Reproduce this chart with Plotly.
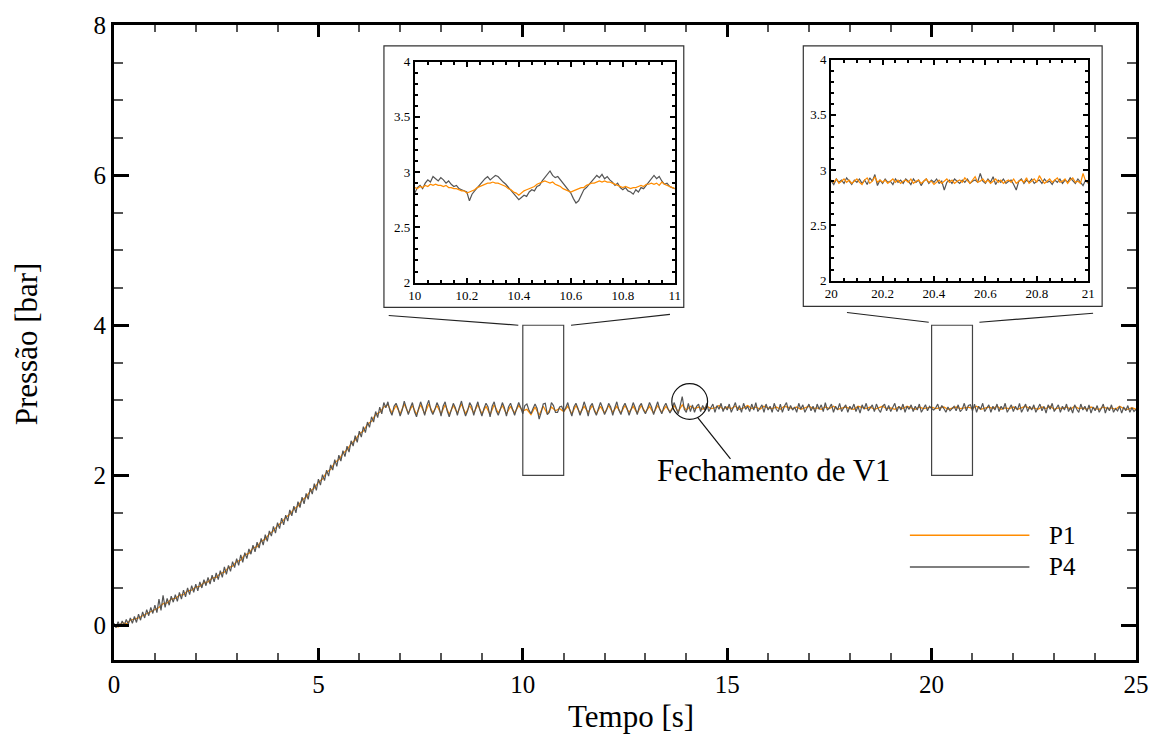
import plotly.graph_objects as go

# ---------------- data ----------------
# P1 sampled every 0.1 s, P4 every 0.05 s (noisier signal)
P1_DT = 0.1
p1_main = [
    0.01, -0.02, 0.04, 0.02, 0.07, 0.08, 0.10, 0.13, 0.16, 0.18,
    0.22, 0.24, 0.29, 0.30, 0.35, 0.36, 0.40, 0.41, 0.46, 0.47,
    0.51, 0.52, 0.57, 0.58, 0.63, 0.64, 0.69, 0.71, 0.77, 0.79,
    0.85, 0.87, 0.94, 0.96, 1.03, 1.05, 1.12, 1.15, 1.22, 1.26,
    1.33, 1.37, 1.44, 1.48, 1.55, 1.59, 1.67, 1.71, 1.79, 1.83,
    1.91, 1.95, 2.04, 2.08, 2.17, 2.21, 2.29, 2.34, 2.42, 2.47,
    2.55, 2.59, 2.68, 2.72, 2.81, 2.84, 2.91,
    2.94, 2.83, 2.93, 2.82, 2.95, 2.83, 2.93, 2.81, 2.94, 2.82,
    2.95, 2.83, 2.93, 2.82, 2.94, 2.81, 2.93, 2.83, 2.95, 2.82,
    2.93, 2.83, 2.94, 2.82, 2.92, 2.81, 2.94, 2.83, 2.93, 2.82,
    2.92, 2.83, 2.93, 2.86, 2.88, 2.81, 2.91, 2.80, 2.92, 2.82,
    2.91, 2.86, 2.89, 2.85, 2.92, 2.82, 2.93, 2.83, 2.92, 2.84,
    2.93, 2.82, 2.92, 2.83, 2.93, 2.84, 2.92, 2.83, 2.93, 2.84,
    2.92, 2.83, 2.93, 2.84, 2.92, 2.83, 2.93, 2.84, 2.92, 2.85,
    2.93, 2.85, 2.94, 2.87,
    2.92, 2.89, 2.91, 2.88, 2.92, 2.89, 2.90, 2.93, 2.88, 2.91,
    2.89, 2.92, 2.88, 2.90, 2.93, 2.89, 2.91, 2.88, 2.92, 2.90,
    2.89, 2.91, 2.88, 2.92, 2.90, 2.89, 2.91, 2.88, 2.90, 2.92,
    2.89, 2.90, 2.88, 2.91, 2.89, 2.92, 2.88, 2.90, 2.91, 2.89,
    2.88, 2.92, 2.90, 2.89, 2.91, 2.88, 2.90, 2.92, 2.89, 2.90,
    2.88, 2.91, 2.89, 2.92, 2.90, 2.88, 2.91, 2.89, 2.90, 2.91,
    2.89, 2.90, 2.91, 2.88, 2.90, 2.91, 2.89, 2.90, 2.91, 2.89,
    2.92, 2.88, 2.90, 2.91, 2.89, 2.92, 2.88, 2.90, 2.89, 2.91,
    2.88, 2.90, 2.92, 2.89, 2.90, 2.88, 2.91, 2.89, 2.92, 2.88,
    2.90, 2.89, 2.91, 2.88, 2.92, 2.89, 2.90, 2.88, 2.91, 2.89,
    2.88, 2.91, 2.89, 2.90, 2.88, 2.92, 2.89, 2.88, 2.90, 2.88,
]

P4_DT = 0.05
p4_main = [
    # ramp 0.00 - 6.60
    0.03, -0.03, 0.05, -0.01, 0.06, 0.00, 0.08, 0.02, 0.10, 0.03,
    0.12, 0.04, 0.15, 0.07, 0.18, 0.10, 0.21, 0.13, 0.24, 0.16,
    0.27, 0.17, 0.35, 0.20, 0.40, 0.24, 0.36, 0.27, 0.39, 0.31,
    0.41, 0.32, 0.44, 0.35, 0.47, 0.38, 0.50, 0.41, 0.53, 0.44,
    0.55, 0.46, 0.58, 0.50, 0.61, 0.53, 0.64, 0.55, 0.67, 0.58,
    0.70, 0.61, 0.73, 0.64, 0.78, 0.68, 0.80, 0.72, 0.85, 0.77,
    0.89, 0.80, 0.94, 0.84, 0.97, 0.89, 1.02, 0.95, 1.07, 0.98,
    1.11, 1.03, 1.16, 1.07, 1.21, 1.12, 1.26, 1.19, 1.32, 1.23,
    1.37, 1.29, 1.43, 1.34, 1.47, 1.39, 1.54, 1.46, 1.59, 1.50,
    1.65, 1.57, 1.71, 1.62, 1.76, 1.68, 1.83, 1.75, 1.89, 1.80,
    1.95, 1.87, 2.01, 1.93, 2.07, 1.99, 2.14, 2.07, 2.21, 2.12,
    2.27, 2.19, 2.33, 2.25, 2.39, 2.31, 2.46, 2.39, 2.53, 2.44,
    2.59, 2.51, 2.65, 2.57, 2.71, 2.64, 2.78, 2.71, 2.85, 2.77,
    2.91, 2.82, 2.97,
    # oscillating plateau 6.65 - 14.00
    2.90, 2.98, 2.86, 2.80, 2.92, 2.96, 2.89, 2.79, 2.87, 2.99,
    2.91, 2.81, 2.90, 2.97, 2.85, 2.78, 2.89, 2.98, 2.90, 2.80,
    2.93, 3.00, 2.87, 2.81, 2.88, 2.97, 2.91, 2.79, 2.92, 2.98,
    2.86, 2.78, 2.87, 2.96, 2.90, 2.80, 2.91, 2.99, 2.88, 2.79,
    2.86, 2.97, 2.92, 2.80, 2.90, 2.98, 2.87, 2.79, 2.89, 2.96,
    2.91, 2.78, 2.92, 2.98, 2.86, 2.80, 2.88, 2.97, 2.90, 2.79,
    2.91, 2.96, 2.88, 2.80, 2.89, 2.97, 2.90, 2.82, 2.93, 2.95,
    2.87, 2.82, 2.89, 2.95, 2.89, 2.75, 2.84, 2.95, 2.96, 2.81,
    2.84, 2.97, 2.93, 2.84, 2.84, 2.91, 2.92, 2.85, 2.90, 2.97,
    2.87, 2.79, 2.91, 2.96, 2.89, 2.80, 2.88, 2.98, 2.90, 2.79,
    2.92, 2.96, 2.86, 2.80, 2.89, 2.97, 2.90, 2.81, 2.87, 2.96,
    2.91, 2.80, 2.90, 2.98, 2.87, 2.81, 2.91, 2.96, 2.89, 2.80,
    2.88, 2.97, 2.90, 2.81, 2.92, 2.96, 2.87, 2.82, 2.89, 2.97,
    2.91, 2.81, 2.90, 2.98, 2.88, 2.82, 2.91, 2.96, 2.89, 2.83,
    2.88, 2.97, 2.90, 2.82, 2.93, 3.05, 2.88, 2.84,
    # after closing V1, 14.05 - 25.00
    2.96, 2.85, 2.94, 2.84, 2.92, 2.95, 2.85, 2.93, 2.87, 2.96,
    2.85, 2.90, 2.95, 2.84, 2.93, 2.88, 2.96, 2.85, 2.92, 2.87,
    2.95, 2.84, 2.90, 2.97, 2.86, 2.93, 2.84, 2.96, 2.88, 2.92,
    2.85, 2.95, 2.87, 2.97, 2.85, 2.90, 2.94, 2.84, 2.95, 2.87,
    2.92, 2.84, 2.96, 2.88, 2.85, 2.95, 2.84, 2.92, 2.97, 2.86,
    2.93, 2.87, 2.91, 2.84, 2.96, 2.88, 2.94, 2.84, 2.90, 2.95,
    2.86, 2.92, 2.84, 2.95, 2.88, 2.94, 2.85, 2.97, 2.87, 2.90,
    2.95, 2.84, 2.92, 2.87, 2.96, 2.85, 2.90, 2.94, 2.84, 2.92,
    2.88, 2.95, 2.85, 2.92, 2.83, 2.94, 2.88, 2.96, 2.86, 2.90,
    2.94, 2.85, 2.95, 2.88, 2.84, 2.92, 2.95, 2.86, 2.93, 2.85,
    2.90, 2.96, 2.85, 2.92, 2.87, 2.95, 2.84, 2.92, 2.88, 2.94,
    2.85, 2.92, 2.87, 2.95, 2.84, 2.90, 2.94, 2.86, 2.92, 2.89,
    2.87, 2.90, 2.95, 2.86, 2.93, 2.89, 2.84, 2.91, 2.86, 2.89,
    2.92, 2.86, 2.94, 2.85, 2.88, 2.96, 2.86, 2.93, 2.94, 2.86,
    2.95, 2.84, 2.92, 2.88, 2.96, 2.85, 2.90, 2.94, 2.84, 2.92,
    2.87, 2.95, 2.85, 2.92, 2.88, 2.96, 2.84, 2.90, 2.94, 2.85,
    2.92, 2.87, 2.96, 2.84, 2.90, 2.95, 2.85, 2.92, 2.87, 2.94,
    2.84, 2.90, 2.95, 2.86, 2.92, 2.83, 2.94, 2.88, 2.96, 2.85,
    2.90, 2.94, 2.84, 2.92, 2.87, 2.95, 2.85, 2.91, 2.83, 2.94,
    2.88, 2.84, 2.95, 2.87, 2.92, 2.85, 2.94, 2.83, 2.91, 2.86,
    2.93, 2.84, 2.89, 2.95, 2.83, 2.91, 2.86, 2.94, 2.84, 2.89,
    2.86, 2.92, 2.83, 2.91, 2.86, 2.93, 2.84, 2.90, 2.85, 2.88,
]

time_p1 = [round(P1_DT * i, 3) for i in range(len(p1_main))]
time_p4 = [round(P4_DT * i, 3) for i in range(len(p4_main))]

ZOOM_DT = 0.01
p1_zoom1 = [
    2.86, 2.85, 2.87, 2.86, 2.88, 2.87, 2.89, 2.88, 2.89, 2.88,
    2.88, 2.87, 2.88, 2.86, 2.86, 2.85, 2.85, 2.84, 2.83, 2.83,
    2.81, 2.82, 2.83, 2.84, 2.86, 2.87, 2.88, 2.89, 2.90, 2.90,
    2.91, 2.90, 2.90, 2.89, 2.88, 2.87, 2.85, 2.84, 2.82, 2.81,
    2.79, 2.81, 2.83, 2.84, 2.85, 2.86, 2.87, 2.89, 2.90, 2.91,
    2.92, 2.91, 2.90, 2.91, 2.89, 2.88, 2.87, 2.85, 2.84, 2.83,
    2.82, 2.83, 2.84, 2.85, 2.86, 2.86, 2.88, 2.89, 2.90, 2.90,
    2.91, 2.92, 2.91, 2.92, 2.91, 2.91, 2.90, 2.89, 2.88, 2.87,
    2.86, 2.87, 2.86, 2.85, 2.86, 2.86, 2.87, 2.88, 2.87, 2.89,
    2.89, 2.90, 2.89, 2.90, 2.88, 2.91, 2.89, 2.88, 2.87, 2.86,
    2.85,
]
p4_zoom1 = [
    2.81, 2.86, 2.88, 2.85, 2.90, 2.93, 2.91, 2.96, 2.94, 2.92,
    2.95, 2.93, 2.90, 2.92, 2.89, 2.87, 2.88, 2.85, 2.84, 2.83,
    2.82, 2.74, 2.80, 2.83, 2.86, 2.89, 2.91, 2.94, 2.96, 2.93,
    2.95, 2.97, 2.96, 2.93, 2.91, 2.89, 2.86, 2.83, 2.80, 2.78,
    2.75, 2.77, 2.79, 2.78, 2.82, 2.84, 2.83, 2.87, 2.88, 2.92,
    2.95, 2.97, 3.01, 2.97, 2.95, 2.96, 2.93, 2.90, 2.87, 2.84,
    2.81, 2.76, 2.72, 2.74, 2.79, 2.84, 2.86, 2.89, 2.92, 2.95,
    2.97, 2.95, 2.98, 2.94, 2.96, 2.93, 2.91, 2.88, 2.90, 2.86,
    2.84, 2.86, 2.83, 2.82, 2.80, 2.84, 2.82, 2.86, 2.85, 2.88,
    2.91, 2.95, 2.97, 2.94, 2.96, 2.92, 2.89, 2.90, 2.87, 2.86,
    2.85,
]
p1_zoom2 = [
    2.91, 2.89, 2.92, 2.88, 2.90, 2.92, 2.89, 2.91, 2.88, 2.90,
    2.92, 2.89, 2.87, 2.91, 2.93, 2.88, 2.90, 2.94, 2.89, 2.91,
    2.89, 2.91, 2.88, 2.90, 2.92, 2.89, 2.91, 2.88, 2.90, 2.91,
    2.89, 2.92, 2.88, 2.90, 2.91, 2.88, 2.90, 2.92, 2.89, 2.90,
    2.87, 2.89, 2.91, 2.88, 2.90, 2.92, 2.89, 2.91, 2.88, 2.90,
    2.91, 2.89, 2.93, 2.90, 2.88, 2.91, 2.94, 2.89, 2.90, 2.92,
    2.89, 2.91, 2.88, 2.90, 2.92, 2.89, 2.91, 2.88, 2.90, 2.91,
    2.89, 2.92, 2.88, 2.90, 2.91, 2.89, 2.93, 2.88, 2.90, 2.92,
    2.89, 2.95, 2.91, 2.88, 2.90, 2.92, 2.89, 2.91, 2.93, 2.89,
    2.90, 2.92, 2.88, 2.91, 2.93, 2.89, 2.90, 2.88, 2.97, 2.90,
    2.89,
]
p4_zoom2 = [
    2.90, 2.87, 2.92, 2.89, 2.91, 2.88, 2.93, 2.90, 2.87, 2.91,
    2.89, 2.92, 2.88, 2.91, 2.87, 2.93, 2.90, 2.96, 2.86, 2.91,
    2.88, 2.92, 2.89, 2.90, 2.87, 2.92, 2.89, 2.91, 2.88, 2.92,
    2.90, 2.87, 2.92, 2.89, 2.91, 2.86, 2.90, 2.92, 2.88, 2.91,
    2.89, 2.92, 2.88, 2.90, 2.82, 2.89, 2.91, 2.88, 2.92, 2.90,
    2.88, 2.91, 2.89, 2.92, 2.88, 2.90, 2.91, 2.89, 2.97, 2.90,
    2.88, 2.92, 2.89, 2.94, 2.87, 2.91, 2.89, 2.92, 2.88, 2.90,
    2.91, 2.87, 2.82, 2.90, 2.92, 2.88, 2.91, 2.89, 2.92, 2.88,
    2.90, 2.91, 2.88, 2.92, 2.89, 2.90, 2.87, 2.91, 2.89, 2.92,
    2.88, 2.91, 2.89, 2.93, 2.90, 2.88, 2.92, 2.89, 2.86, 2.91,
    2.88,
]
time_zoom1 = [round(10.0 + ZOOM_DT * i, 3) for i in range(len(p1_zoom1))]
time_zoom2 = [round(20.0 + ZOOM_DT * i, 3) for i in range(len(p1_zoom2))]

series_names = ["P1", "P4"]
main_xticks = [0, 5, 10, 15, 20, 25]
main_yticks = [0, 2, 4, 6, 8]

# ---------------- styling ----------------
ORANGE = "#FF8C00"
GREY = "#555555"
FONT = "Liberation Serif, Times New Roman, serif"

W, H = 1161, 735
L, R, T, B = 114, 1140, 19, 660   # plot area in pixels


def px(x):
    return (x - L) / (R - L)


def py(y):
    return (B - y) / (B - T)


fig = go.Figure()

# main traces
fig.add_trace(go.Scatter(x=time_p1, y=p1_main, mode="lines", name=series_names[0],
                         line=dict(color=ORANGE, width=1.3), showlegend=False))
fig.add_trace(go.Scatter(x=time_p4, y=p4_main, mode="lines", name=series_names[1],
                         line=dict(color=GREY, width=1.2), showlegend=False))
# inset 1
fig.add_trace(go.Scatter(x=time_zoom1, y=p4_zoom1, mode="lines", xaxis="x2", yaxis="y2",
                         line=dict(color=GREY, width=1.2), showlegend=False))
fig.add_trace(go.Scatter(x=time_zoom1, y=p1_zoom1, mode="lines", xaxis="x2", yaxis="y2",
                         line=dict(color=ORANGE, width=1.2), showlegend=False))
# inset 2
fig.add_trace(go.Scatter(x=time_zoom2, y=p4_zoom2, mode="lines", xaxis="x3", yaxis="y3",
                         line=dict(color=GREY, width=1.2), showlegend=False))
fig.add_trace(go.Scatter(x=time_zoom2, y=p1_zoom2, mode="lines", xaxis="x3", yaxis="y3",
                         line=dict(color=ORANGE, width=1.2), showlegend=False))

main_axis = dict(showgrid=False, zeroline=False, showline=True, linecolor="black",
                 linewidth=3, mirror="allticks", ticks="inside", tickcolor="black",
                 tickwidth=3, tickfont=dict(family=FONT, size=25, color="black"))

inset_axis = dict(showgrid=False, zeroline=False, showline=True, linecolor="black",
                  linewidth=2, mirror="allticks", ticks="inside", tickcolor="black",
                  tickwidth=1.5, ticklen=5,
                  tickfont=dict(family=FONT, size=13, color="black"))

# inset domains (pixels -> paper)
in1 = dict(x=(416, 677), y=(279, 56))
in2 = dict(x=(834, 1092), y=(277, 54))

fig.update_layout(
    width=W, height=H,
    margin=dict(l=L, r=W - R, t=T, b=H - B),
    paper_bgcolor="white", plot_bgcolor="white",
    font=dict(family=FONT, color="black"),
    xaxis=dict(range=[0, 25], tickvals=main_xticks, ticklen=12,
               minor=dict(dtick=1, ticklen=7, tickwidth=1.5, tickcolor="#555555", ticks="inside"),
               **main_axis),
    yaxis=dict(range=[-0.46, 8], tickvals=main_yticks, ticklen=15,
               minor=dict(dtick=0.5, ticklen=9, tickwidth=1.5, tickcolor="#555555", ticks="inside"),
               **main_axis),
    xaxis2=dict(domain=[px(in1["x"][0]), px(in1["x"][1])], anchor="y2", range=[10, 11],
                dtick=0.2, tick0=10, minor=dict(dtick=0.05, ticklen=3, ticks="inside", tickcolor="black"),
                **inset_axis),
    yaxis2=dict(domain=[py(in1["y"][0]), py(in1["y"][1])], anchor="x2", range=[2, 4],
                dtick=0.5, tick0=2, minor=dict(dtick=0.1, ticklen=3, ticks="inside", tickcolor="black"),
                **inset_axis),
    xaxis3=dict(domain=[px(in2["x"][0]), px(in2["x"][1])], anchor="y3", range=[20, 21],
                dtick=0.2, tick0=20, minor=dict(dtick=0.05, ticklen=3, ticks="inside", tickcolor="black"),
                **inset_axis),
    yaxis3=dict(domain=[py(in2["y"][0]), py(in2["y"][1])], anchor="x3", range=[2, 4],
                dtick=0.5, tick0=2, minor=dict(dtick=0.1, ticklen=3, ticks="inside", tickcolor="black"),
                **inset_axis),
)

shapes = []
# inset outer frames
for (x0, x1, y0, y1) in [(385, 686, 304, 40), (806, 1106, 303, 40)]:
    shapes.append(dict(type="rect", xref="paper", yref="paper", x0=px(x0), x1=px(x1),
                       y0=py(y0), y1=py(y1), line=dict(color="#333333", width=1.2)))
# zoom rectangles on main plot
for (a, b) in [(10, 11), (20, 21)]:
    shapes.append(dict(type="rect", xref="x", yref="y", x0=a, x1=b, y0=2, y1=4,
                       line=dict(color="#444444", width=1.2)))
# connector lines
for (x0, y0, x1, y1) in [(6.72, 4.13, 9.89, 4.0), (11.18, 4.0, 13.6, 4.145),
                         (17.93, 4.17, 19.93, 4.04), (21.17, 4.04, 23.95, 4.16)]:
    shapes.append(dict(type="line", xref="x", yref="y", x0=x0, y0=y0, x1=x1, y1=y1,
                       line=dict(color="#222222", width=1.2)))
# circle + pointer for the annotation
shapes.append(dict(type="circle", xref="x", yref="y", x0=13.645, x1=14.52, y0=2.746, y1=3.221,
                   line=dict(color="#111111", width=1.2)))
shapes.append(dict(type="line", xref="x", yref="y", x0=14.28, y0=2.77, x1=15.08, y1=2.218,
                   line=dict(color="#111111", width=1.2)))
# legend lines
for (yy, col) in [(534, ORANGE), (566, GREY)]:
    shapes.append(dict(type="line", xref="paper", yref="paper", x0=px(913), x1=px(1033),
                       y0=py(yy), y1=py(yy), line=dict(color=col, width=1.5)))
fig.update_layout(shapes=shapes)

annotations = [
    dict(text="Fechamento de V1", x=16.15, y=2.07, xref="x", yref="y", showarrow=False,
         font=dict(family=FONT, size=31, color="black"), xanchor="center", yanchor="middle"),
    dict(text="Tempo [s]", x=px(633), y=py(717), xref="paper", yref="paper", showarrow=False,
         font=dict(family=FONT, size=31, color="black"), xanchor="center", yanchor="middle"),
    dict(text="Pressão [bar]", x=px(27), y=py(341), xref="paper", yref="paper", showarrow=False,
         textangle=-90, font=dict(family=FONT, size=31, color="black"),
         xanchor="center", yanchor="middle"),
]
for (yy, name) in [(534, series_names[0]), (566, series_names[1])]:
    annotations.append(dict(text=name, x=px(1051), y=py(yy), xref="paper", yref="paper",
                            showarrow=False, xanchor="left", yanchor="middle",
                            font=dict(family=FONT, size=25, color="black")))
fig.update_layout(annotations=annotations)

fig.write_html("out.html")
